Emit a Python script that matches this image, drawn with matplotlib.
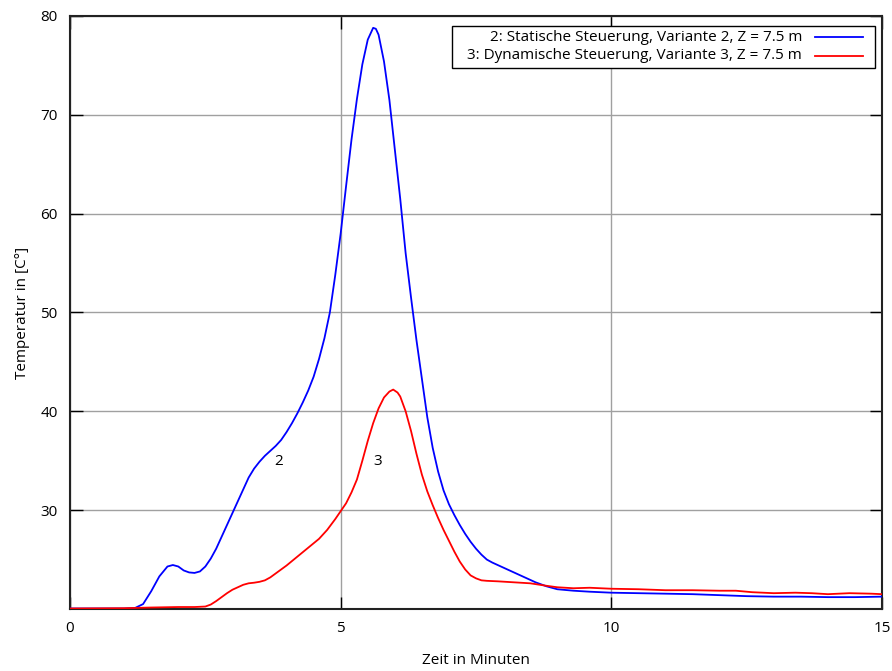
import matplotlib
matplotlib.use("Agg")
import matplotlib.pyplot as plt
from matplotlib.lines import Line2D
from matplotlib.patches import Rectangle

plt.rcParams['font.family'] = ['Open Sans', 'DejaVu Sans']

# Zeit in Minuten / Temperatur in °C
t_stat = [0.0, 1.0, 1.2, 1.35, 1.5, 1.65, 1.8, 1.9, 2.0, 2.1, 2.2, 2.3, 2.4, 2.5,
          2.6, 2.7, 2.8, 2.9, 3.0, 3.1, 3.2, 3.3, 3.4, 3.5, 3.6, 3.7, 3.8, 3.9,
          4.0, 4.1, 4.2, 4.3, 4.4, 4.5, 4.6, 4.7, 4.8, 4.9, 5.0, 5.1, 5.2, 5.3,
          5.4, 5.5, 5.6, 5.65, 5.7, 5.8, 5.9, 6.0, 6.1, 6.2, 6.3, 6.4, 6.5, 6.6,
          6.7, 6.8, 6.9, 7.0, 7.1, 7.2, 7.3, 7.4, 7.5, 7.6, 7.7, 7.8, 8.0, 8.2,
          8.4, 8.6, 8.8, 9.0, 9.3, 9.6, 10.0, 10.5, 11.0, 11.5, 12.0, 12.5, 13.0,
          13.5, 14.0, 14.5, 15.0]
T_stat = [20.05, 20.05, 20.1, 20.5, 21.8, 23.3, 24.3, 24.45, 24.3, 23.9, 23.7, 23.65,
          23.8, 24.3, 25.1, 26.1, 27.3, 28.5, 29.7, 30.9, 32.1, 33.3, 34.2, 34.9,
          35.5, 36.0, 36.5, 37.1, 37.9, 38.8, 39.8, 40.9, 42.1, 43.5, 45.3, 47.4,
          50.0, 53.8, 58.0, 62.8, 67.5, 71.6, 75.1, 77.6, 78.8, 78.7, 78.1, 75.4,
          71.5, 66.5, 61.5, 56.0, 51.5, 47.2, 43.3, 39.4, 36.3, 33.9, 32.0, 30.6,
          29.5, 28.5, 27.6, 26.8, 26.1, 25.5, 25.0, 24.7, 24.2, 23.7, 23.2, 22.7,
          22.3, 22.0, 21.85, 21.75, 21.65, 21.6, 21.55, 21.5, 21.4, 21.3, 21.25,
          21.25, 21.2, 21.2, 21.25]

t_dyn = [0.0, 1.0, 1.5, 2.0, 2.3, 2.5, 2.6, 2.7, 2.8, 2.9, 3.0, 3.1, 3.2, 3.3, 3.4,
         3.5, 3.6, 3.7, 3.8, 3.9, 4.0, 4.2, 4.4, 4.6, 4.75, 4.9, 5.0, 5.1, 5.2,
         5.3, 5.4, 5.5, 5.6, 5.7, 5.8, 5.9, 5.97, 6.05, 6.1, 6.2, 6.3, 6.4, 6.5,
         6.6, 6.7, 6.8, 6.9, 7.0, 7.1, 7.2, 7.3, 7.4, 7.5, 7.6, 7.7, 7.9, 8.2,
         8.5, 8.8, 9.0, 9.3, 9.6, 10.0, 10.5, 11.0, 11.5, 12.0, 12.3, 12.6, 13.0,
         13.4, 13.7, 14.0, 14.4, 14.8, 15.0]
T_dyn = [20.05, 20.08, 20.15, 20.2, 20.2, 20.25, 20.45, 20.8, 21.2, 21.6, 21.95,
         22.2, 22.45, 22.6, 22.66, 22.75, 22.9, 23.2, 23.6, 24.0, 24.4, 25.3, 26.2,
         27.1, 28.0, 29.1, 29.9, 30.7, 31.8, 33.1, 35.0, 37.0, 38.8, 40.3, 41.4,
         42.0, 42.2, 41.9, 41.5, 40.0, 38.0, 35.7, 33.6, 31.9, 30.5, 29.2, 28.0,
         26.9, 25.8, 24.8, 24.0, 23.4, 23.1, 22.9, 22.85, 22.8, 22.7, 22.6, 22.35,
         22.2, 22.1, 22.15, 22.05, 22.0, 21.9, 21.9, 21.85, 21.85, 21.7, 21.6,
         21.65, 21.6, 21.5, 21.6, 21.55, 21.5]

labels = ["2: Statische Steuerung, Variante 2, Z = 7.5 m",
          "3: Dynamische Steuerung, Variante 3, Z = 7.5 m"]
colors = ["#0000ff", "#ff0000"]
curve_tags = ["2", "3"]
tag_pos = [(3.85, 34.9), (5.69, 34.9)]

x_ticks = [0, 5, 10, 15]
y_ticks = [30, 40, 50, 60, 70, 80]

fig = plt.figure(figsize=(8.92, 6.71), dpi=100)
ax = fig.add_axes([0.0785, 0.0924, 0.9103, 0.8838])

ax.plot(t_stat, T_stat, color=colors[0], lw=1.3, zorder=3)
ax.plot(t_dyn, T_dyn, color=colors[1], lw=1.3, zorder=3)

ax.set_xlim(0, 15)
ax.set_ylim(20, 80)
ax.set_xticks(x_ticks)
ax.set_yticks(y_ticks)
ax.grid(True, color="#a0a0a0", lw=1.0)
ax.tick_params(direction="in", length=9, width=1.0, top=True, right=True,
               labelsize=11, pad=9, colors="black")
for s in ax.spines.values():
    s.set_linewidth(1.5)
    s.set_color("#222222")

ax.set_xlabel("Zeit in Minuten", fontsize=11, labelpad=12)
ax.set_ylabel("Temperatur in [C°]", fontsize=11, labelpad=7)

for tag, (tx, ty) in zip(curve_tags, tag_pos):
    ax.text(tx, ty, tag, fontsize=11, ha="center", va="center")

# key box, top right
ax.add_patch(Rectangle((0.4704, 0.912), 0.521, 0.071, transform=ax.transAxes,
                       facecolor="white", edgecolor="black", lw=1.0, zorder=4))
for i, (lab, c) in enumerate(zip(labels, colors)):
    yk = 0.9645 - i * 0.032
    ax.text(0.9015, yk, lab, transform=ax.transAxes, ha="right", va="center",
            fontsize=11, zorder=5)
    ax.add_line(Line2D([0.9175, 0.9766], [yk, yk], transform=ax.transAxes,
                       color=c, lw=1.3, zorder=5))

fig.savefig("out.png", dpi=100)
